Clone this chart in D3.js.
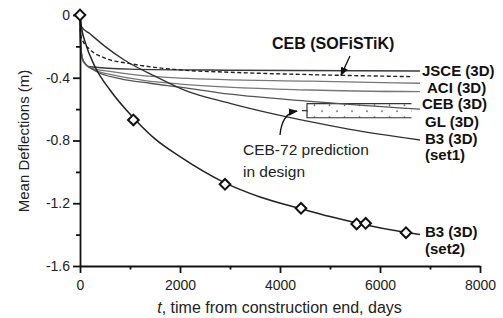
<!DOCTYPE html>
<meta charset="utf-8">
<style>
  body { margin: 0; background: #fff; }
  text { font-family: Arial, "Liberation Sans", Helvetica, sans-serif; }
</style>
<svg id="chart" width="503" height="318"></svg>
<script src="https://d3js.org/d3.v7.min.js"></script>
<script>
// [t (days), mean deflection (m)]
var jsce = [[0,0],[15,-0.2],[60,-0.29],[200,-0.33],[1000,-0.345],[3000,-0.352],[6800,-0.357]];
var aci = [[0,0],[15,-0.2],[60,-0.29],[200,-0.335],[600,-0.36],[1200,-0.385],[2000,-0.402],[4600,-0.422],[6800,-0.435]];
var gl = [[0,0],[15,-0.21],[70,-0.3],[250,-0.345],[700,-0.385],[1300,-0.418],[2000,-0.44],[4600,-0.478],[6800,-0.489]];
var ceb = [[0,0],[15,-0.22],[80,-0.3],[300,-0.355],[800,-0.405],[1400,-0.435],[2000,-0.46],[3000,-0.505],[4600,-0.55],[6800,-0.6]];
var b3set1 = [[0,0],[20,-0.07],[200,-0.12],[500,-0.2],[900,-0.29],[1500,-0.39],[2100,-0.48],[3000,-0.563],[4600,-0.68],[5400,-0.729],[6800,-0.797]];
var cebSofistik = [[0,0],[10,-0.12],[50,-0.16],[200,-0.22],[500,-0.275],[1000,-0.31],[2000,-0.35],[3000,-0.365],[4600,-0.38],[6630,-0.393]];
var b3set2 = [[0,0],[30,-0.08],[100,-0.17],[300,-0.33],[600,-0.478],[1067,-0.655],[1500,-0.79],[2000,-0.903],[2900,-1.07],[3600,-1.16],[4420,-1.235],[5000,-1.285],[5600,-1.33],[6500,-1.385],[6800,-1.40]];
var measured = [[0,0],[1067,-0.669],[2900,-1.079],[4420,-1.232],[5533,-1.332],[5713,-1.328],[6520,-1.388]];

// CEB-72 design prediction band
var ceb72 = { t0: 4540, t1: 6630, top: -0.565, bottom: -0.655 };

var xTicks = [0, 2000, 4000, 6000, 8000];
var xMinor = [1000, 3000, 5000, 7000];
var yTicks = [0, -0.4, -0.8, -1.2, -1.6];
var yMinor = [-0.2, -0.6, -1.0, -1.4];

var labels = [
  { text: "JSCE (3D)", t: 6840, v: -0.357 },
  { text: "ACI (3D)", t: 6940, v: -0.462 },
  { text: "CEB (3D)", t: 6840, v: -0.568 },
  { text: "GL (3D)", t: 6900, v: -0.678 },
  { text: "B3 (3D)", t: 6900, v: -0.786 },
  { text: "(set1)", t: 6900, v: -0.893 },
  { text: "B3 (3D)", t: 6900, v: -1.381 },
  { text: "(set2)", t: 6900, v: -1.487 }
];

var svg = d3.select("#chart");
var x = d3.scaleLinear().domain([0, 8000]).range([80, 480]);
var y = d3.scaleLinear().domain([-1.6, 0]).range([266, 15]);

var defs = svg.append("defs");
defs.append("marker")
    .attr("id", "arrow")
    .attr("viewBox", "0 0 10 10")
    .attr("refX", 9).attr("refY", 5)
    .attr("markerWidth", 7).attr("markerHeight", 7)
    .attr("orient", "auto")
  .append("path")
    .attr("d", "M0,1 L10,5 L0,9 Z")
    .attr("fill", "#111");

var pat = defs.append("pattern")
    .attr("id", "dots")
    .attr("patternUnits", "userSpaceOnUse")
    .attr("x", x(ceb72.t0)).attr("y", y(ceb72.top))
    .attr("width", 15).attr("height", 12);
pat.append("circle").attr("cx", 7.5).attr("cy", 1.5).attr("r", 0.8).attr("fill", "#222");
pat.append("circle").attr("cx", 15).attr("cy", 7.5).attr("r", 0.8).attr("fill", "#222");
pat.append("circle").attr("cx", 0).attr("cy", 7.5).attr("r", 0.8).attr("fill", "#222");

var line = d3.line()
    .x(d => x(d[0]))
    .y(d => y(d[1]))
    .curve(d3.curveMonotoneX);

// dotted band
svg.append("rect")
    .attr("x", x(ceb72.t0))
    .attr("y", y(ceb72.top))
    .attr("width", x(ceb72.t1) - x(ceb72.t0))
    .attr("height", y(ceb72.bottom) - y(ceb72.top))
    .attr("fill", "url(#dots)");
svg.append("path")
    .attr("d", "M" + x(ceb72.t1) + "," + y(ceb72.top) +
               "H" + x(ceb72.t0) + "V" + y(ceb72.bottom) + "H" + x(ceb72.t1) +
               "M" + x(ceb72.t0) + "," + y((ceb72.top + ceb72.bottom) / 2) +
               "h-5")
    .attr("fill", "none")
    .attr("stroke", "#333")
    .attr("stroke-width", 1.2);

var series = [
  { data: jsce, color: "#3a3a3a", w: 1.4 },
  { data: aci, color: "#777", w: 1.3 },
  { data: gl, color: "#777", w: 1.3 },
  { data: ceb, color: "#555", w: 1.3 },
  { data: b3set1, color: "#333", w: 1.4 },
  { data: cebSofistik, color: "#222", w: 1.4, dash: "4,2.5" },
  { data: b3set2, color: "#222", w: 1.5 }
];

svg.append("g").selectAll("path")
  .data(series)
  .join("path")
    .attr("d", d => line(d.data))
    .attr("fill", "none")
    .attr("stroke", d => d.color)
    .attr("stroke-width", d => d.w)
    .attr("stroke-dasharray", d => d.dash || null);

// axes
var xAxis = svg.append("g")
    .attr("transform", "translate(0," + y(-1.6) + ")")
    .call(d3.axisBottom(x).tickValues(xTicks).tickSize(7).tickSizeOuter(0).tickPadding(7)
      .tickFormat(d => String(d)));
svg.append("g")
    .attr("transform", "translate(0," + y(-1.6) + ")")
    .call(d3.axisBottom(x).tickValues(xMinor).tickSize(3.5).tickFormat(""))
    .call(g => g.select(".domain").remove());

var yAxis = svg.append("g")
    .attr("transform", "translate(" + x(0) + ",0)")
    .call(d3.axisLeft(y).tickValues(yTicks).tickSize(7).tickSizeOuter(0).tickPadding(3)
      .tickFormat(d => d === 0 ? "0" : d.toFixed(1)));
svg.append("g")
    .attr("transform", "translate(" + x(0) + ",0)")
    .call(d3.axisLeft(y).tickValues(yMinor).tickSize(4).tickFormat(""))
    .call(g => g.select(".domain").remove());

svg.selectAll(".domain, .tick line")
    .attr("stroke", "#111")
    .attr("stroke-width", 1.8);
svg.selectAll(".tick text")
    .attr("font-size", 14)
    .attr("font-family", "Arial, 'Liberation Sans', sans-serif")
    .attr("fill", "#222");

// measured points
svg.append("g").selectAll("path")
  .data(measured)
  .join("path")
    .attr("d", d3.symbol(d3.symbolSquare, 56))
    .attr("transform", d => "translate(" + x(d[0]) + "," + y(d[1]) + ") rotate(45)")
    .attr("fill", "#fff")
    .attr("stroke", "#111")
    .attr("stroke-width", 2);

// curve labels
svg.append("g").selectAll("text")
  .data(labels)
  .join("text")
    .attr("x", d => x(d.t))
    .attr("y", d => y(d.v))
    .attr("dy", "0.35em")
    .attr("font-size", 15)
    .attr("font-weight", "bold")
    .attr("fill", "#111")
    .text(d => d.text);

// CEB (SOFiSTiK) annotation
svg.append("text")
    .attr("x", x(3840))
    .attr("y", y(-0.218))
    .attr("font-size", 16)
    .attr("font-weight", "bold")
    .attr("fill", "#111")
    .text("CEB (SOFiSTiK)");
svg.append("line")
    .attr("x1", x(5400)).attr("y1", y(-0.261))
    .attr("x2", x(5220)).attr("y2", y(-0.385))
    .attr("stroke", "#111")
    .attr("stroke-width", 1.3)
    .attr("marker-end", "url(#arrow)");

// CEB-72 annotation
svg.append("path")
    .attr("d", "M" + x(4000) + "," + y(-0.765) +
               "Q" + x(4040) + "," + y(-0.625) + " " + x(4340) + "," + y(-0.612))
    .attr("fill", "none")
    .attr("stroke", "#111")
    .attr("stroke-width", 1.3)
    .attr("marker-end", "url(#arrow)");
svg.append("text")
    .attr("x", x(3260))
    .attr("y", y(-0.892))
    .attr("font-size", 15.5)
    .attr("fill", "#222")
    .text("CEB-72 prediction");
svg.append("text")
    .attr("x", x(3260))
    .attr("y", y(-1.03))
    .attr("font-size", 15.5)
    .attr("fill", "#222")
    .text("in design");

// axis titles
svg.append("text")
    .attr("transform", "translate(28.5,141) rotate(-90)")
    .attr("text-anchor", "middle")
    .attr("font-size", 15)
    .attr("fill", "#222")
    .text("Mean Deflections (m)");

var xt = svg.append("text")
    .attr("x", 279.5)
    .attr("y", 313)
    .attr("text-anchor", "middle")
    .attr("font-size", 16)
    .attr("fill", "#222");
xt.append("tspan").attr("font-style", "italic").text("t");
xt.append("tspan").text(", time from construction end, days");
</script>
